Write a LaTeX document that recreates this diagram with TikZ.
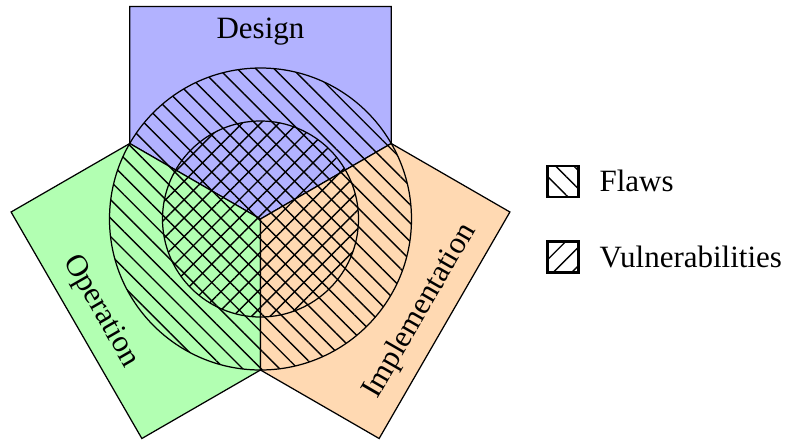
\documentclass[tikz,border=0pt]{standalone}
\usepackage{fontspec}
\setmainfont{Liberation Serif}
\usetikzlibrary{patterns.meta,calc}

\begin{document}
\begin{tikzpicture}[x=0.32258pt, y=0.32258pt,
  region/.style={draw=black, line width=0.4pt, line join=miter},
  ring/.style={draw=black, line width=0.4pt},
  flawfill/.style={pattern={Lines[angle=-45,distance=4.2pt,line width=0.45pt]}},
  vulnfill/.style={pattern={Lines[angle=45,distance=4.2pt,line width=0.45pt]}},
  lbl/.style={font=\fontsize{10}{12}\selectfont, inner sep=0pt},
  keybox/.style={draw=black, line width=0.7pt, minimum size=10pt, inner sep=0pt}
]
\useasboundingbox (-260.5,-220) rectangle (526.5,219);

% corners of the central triangle (on the outer circle)
\coordinate (C)  at (0,0);
\coordinate (V1) at (150:151);
\coordinate (V2) at (30:151);
\coordinate (V3) at (270:151);

% outer corners of the three bands
\coordinate (D1) at ($(V1)+(90:137)$);
\coordinate (D2) at ($(V2)+(90:137)$);
\coordinate (O1) at ($(V1)+(210:137)$);
\coordinate (O3) at ($(V3)+(210:137)$);
\coordinate (I2) at ($(V2)+(330:137)$);
\coordinate (I3) at ($(V3)+(330:137)$);

% coloured sectors
\path[region, fill=blue!30]   (C) -- (V1) -- (D1) -- (D2) -- (V2) -- cycle;
\path[region, fill=green!30]  (C) -- (V1) -- (O1) -- (O3) -- (V3) -- cycle;
\path[region, fill=orange!30] (C) -- (V2) -- (I2) -- (I3) -- (V3) -- cycle;

% flaws and vulnerabilities
\path[flawfill] (C) circle[radius=151];
\draw[ring] (C) circle[radius=151];
\path[vulnfill] (C) circle[radius=98];
\draw[ring] (C) circle[radius=98];

% sector labels
\node[lbl] (design) at (0,187.5) {Design};
\node[lbl, rotate=-60] (operation) at (-159.75,-92.25) {Operation};
\node[lbl, rotate=60] (implementation) at (159.75,-92.25) {Implementation};

% legend
\node[keybox, flawfill] (flawkey) at (302.5,37.5) {};
\node[keybox, vulnfill] (vulnkey) at (302.5,-38) {};
\node[lbl, anchor=base west] (flawtext) at (338.5,27.5) {Flaws};
\node[lbl, anchor=base west] (vulntext) at (338.5,-48) {Vulnerabilities};
\end{tikzpicture}
\end{document}
